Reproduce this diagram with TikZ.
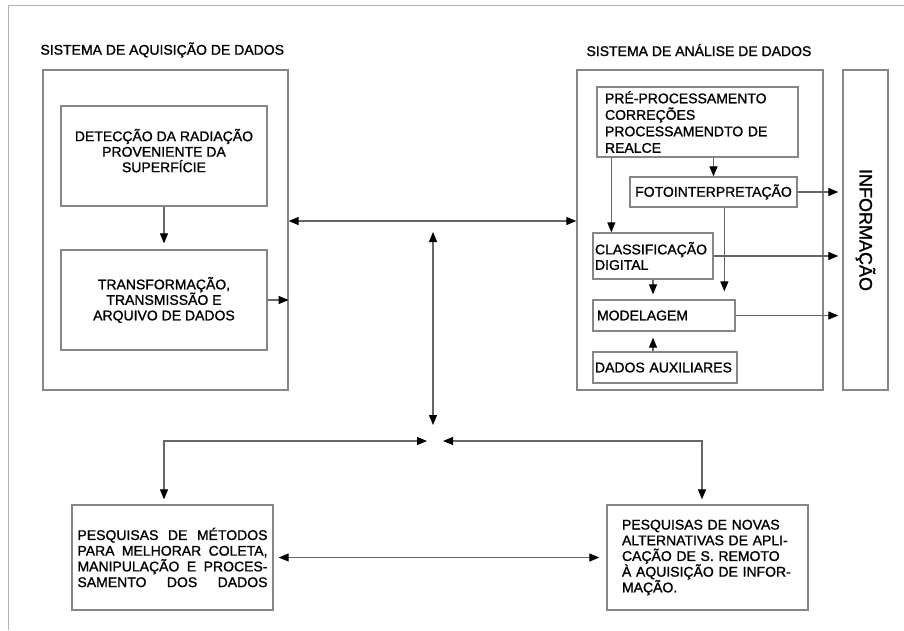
\documentclass[tikz,border=0pt]{standalone}
\usepackage{fontspec}
\setmainfont{Liberation Sans}
\newfontfamily\diagfont{Liberation Sans}[FakeBold=1.2]
\usetikzlibrary{arrows.meta}
\usetikzlibrary{calc}

\tikzset{
	box/.style={draw=gray!95, line width=1.3pt, inner sep=0pt},
	txt/.style={font=\diagfont\fontsize{14}{15.5}\selectfont},
	arr/.style={draw=gray!80!black, line width=1.1pt, -{Triangle[length=10pt,width=8pt,color=black]}},
	darr/.style={draw=gray!80!black, line width=1.1pt, {Triangle[length=10pt,width=8pt,color=black]}-{Triangle[length=10pt,width=8pt,color=black]}}
}

\begin{document}
\begin{tikzpicture}[x=1pt,y=-1pt]
	\useasboundingbox (0,0) rectangle (904,630);
	
	% frame of the page
	\draw[gray!60, line width=1pt] (8,630) -- (8,5) -- (904,5);
	
	% sistema de aquisicao
	\node[anchor=west, txt] (tA) at (37,50) {SISTEMA DE AQUISIÇÃO DE DADOS};
	\node[box, minimum width=245pt, minimum height=320pt] (aquis) at (165.5,230) {};
	\node[box, txt, align=center, text depth=11pt, minimum width=206pt, minimum height=100pt] (detec) at (164,156) {DETECÇÃO DA RADIAÇÃO\\PROVENIENTE DA\\SUPERFÍCIE};
	\node[box, txt, align=center, minimum width=206pt, minimum height=100pt] (transf) at (164,300) {TRANSFORMAÇÃO,\\TRANSMISSÃO E\\ARQUIVO DE DADOS};
	\draw[arr, shorten >=6pt] (detec) -- (transf);
	\draw[arr] (transf.east) -- (aquis.east |- transf.east);
	
	% sistema de analise
	\node[anchor=west, txt] (tB) at (583,50) {SISTEMA DE ANÁLISE DE DADOS};
	\node[box, minimum width=246pt, minimum height=320pt] (anal) at (700,230) {};
	\node[box, minimum width=45pt, minimum height=320pt,
		label={[rotate=-90, font=\diagfont\fontsize{18}{18}\selectfont]center:INFORMAÇÃO}] (info) at (865.5,230) {};
	
	\node[box, txt, align=left, text width=185pt, minimum width=201pt, minimum height=70pt,
		font=\diagfont\fontsize{14}{16.5}\selectfont] (prep) at (697.5,122) {PRÉ-PROCESSAMENTO\\CORREÇÕES\\PROCESSAMENDTO DE\\REALCE};
	\node[box, txt, minimum width=167pt, minimum height=30pt] (foto) at (713.5,192) {FOTOINTERPRETAÇÃO};
	\node[box, txt, align=left, text width=116pt, minimum width=120pt, minimum height=46pt] (class) at (653,256) {CLASSIFICAÇÃO\\DIGITAL};
	\node[box, txt, align=left, text width=134pt, minimum width=142pt, minimum height=31pt] (model) at (664,315.5) {MODELAGEM};
	\node[box, txt, align=left, text width=140pt, minimum width=144pt, minimum height=31pt] (aux) at (665,367.5) {DADOS AUXILIARES};
	
	\coordinate (pd) at ([xshift=15pt]prep.south west);
	\coordinate (fd) at ([xshift=95pt]foto.south west);
	\draw[arr] (prep.south -| foto.north) -- (foto.north);
	\draw[arr] (pd) -- (pd |- class.north);
	\draw[arr, shorten >=8pt] (fd) -- (fd |- model.north);
	\draw[arr, shorten >=5pt] (class.south) -- (class.south |- model.north);
	\draw[arr, shorten >=6pt] (aux.north -| class.south) -- (model.south -| class.south);
	
	% saidas para informacao
	\draw[arr, shorten >=4pt] (foto.east) -- (info.west |- foto.east);
	\draw[arr, shorten >=4pt] (class.east) -- (info.west |- class.east);
	\draw[arr, shorten >=4pt] (model.east) -- (info.west |- model.east);
	
	% pesquisas
	\node[box, txt, align=left, minimum width=201pt, minimum height=105pt, font=\diagfont\fontsize{14}{15.7}\selectfont] (pesqA) at (172.5,557.5) {%
		\makebox[190pt][s]{PESQUISAS DE MÉTODOS}\\
		\makebox[190pt][s]{PARA MELHORAR COLETA,}\\
		\makebox[190pt][s]{MANIPULAÇÃO E PROCES-}\\
		\makebox[190pt][s]{SAMENTO DOS DADOS}};
	\node[box, txt, align=left, text width=171pt, minimum width=201pt, minimum height=105pt, font=\diagfont\fontsize{14}{15.7}\selectfont] (pesqB) at (707.5,557.5) {%
		\makebox[171pt][s]{PESQUISAS DE NOVAS}\\
		\makebox[171pt][s]{ALTERNATIVAS DE APLI-}\\
		\makebox[171pt][s]{CAÇÃO DE S. REMOTO}\\
		\makebox[171pt][s]{À AQUISIÇÃO DE INFOR-}\\
		MAÇÃO.};
	
	% ligacoes centrais
	\coordinate (mid) at (433,221);
	\coordinate (vtop) at (433,232);
	\coordinate (vbot) at (433,425);
	\coordinate (hl) at (427,441);
	\coordinate (hr) at (443,441);
	\draw[darr] (aquis.east |- mid) -- (anal.west |- mid);
	\draw[darr] (vtop) -- (vbot);
	\draw[darr, shorten >=5pt] (hl) -| ([xshift=-8.5pt]pesqA.north);
	\draw[darr, shorten >=5pt] (hr) -| ([xshift=-5.5pt]pesqB.north);
	\draw[darr, shorten <=5pt, shorten >=7pt] (pesqA.east) -- (pesqB.west);
\end{tikzpicture}
\end{document}
